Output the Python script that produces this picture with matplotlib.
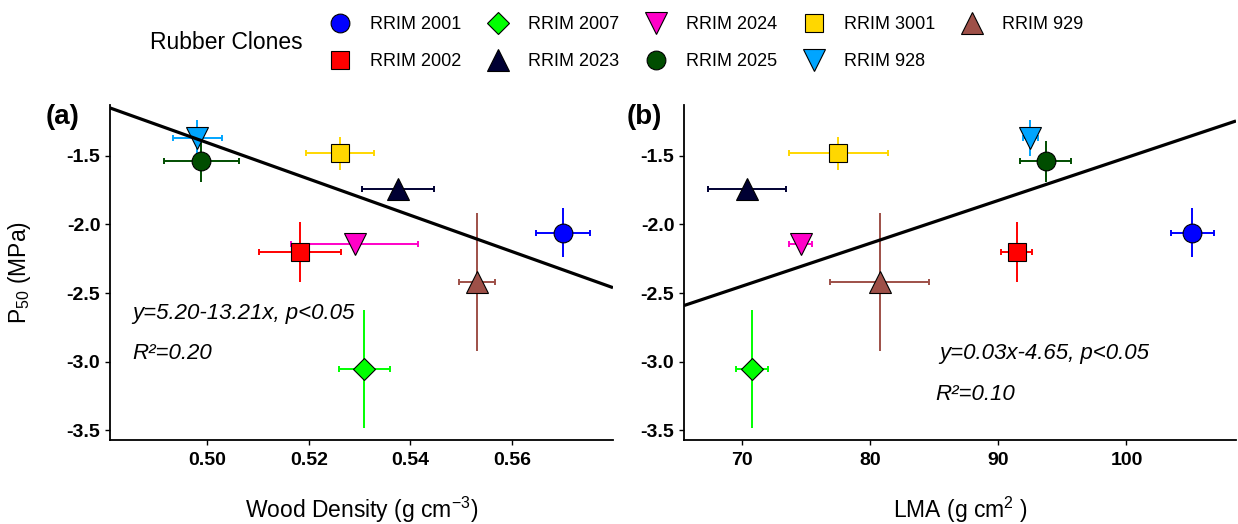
import matplotlib
matplotlib.use("Agg")
from matplotlib import pyplot as plt
from matplotlib.lines import Line2D

plt.rcParams["font.family"] = ["Liberation Sans", "DejaVu Sans"]
plt.rcParams["mathtext.fontset"] = "custom"
plt.rcParams["mathtext.rm"] = "Liberation Sans"
plt.rcParams["mathtext.it"] = "Liberation Sans:italic"
plt.rcParams["mathtext.bf"] = "Liberation Sans:bold"

# clones, in legend order
clones = ["RRIM 2001", "RRIM 2002", "RRIM 2007", "RRIM 2023", "RRIM 2024",
          "RRIM 2025", "RRIM 3001", "RRIM 928", "RRIM 929"]
colors = ["#0000FF", "#FF0000", "#00FF00", "#000033", "#FF00C8",
          "#004D00", "#FFD700", "#00A5FF", "#9E5048"]
markers = ["o", "s", "D", "^", "v", "o", "s", "v", "^"]

# P50 (MPa) mean and error
p50 = [-2.06, -2.20, -3.05, -1.74, -2.14, -1.54, -1.48, -1.37, -2.42]
p50_err = [0.18, 0.22, 0.43, 0.03, 0.07, 0.15, 0.12, 0.13, 0.50]

# wood density (g cm-3) mean and error
wd = [0.5701, 0.5183, 0.5309, 0.5376, 0.5290, 0.4988, 0.5262, 0.4980, 0.5531]
wd_err = [0.0053, 0.0081, 0.0050, 0.0071, 0.0125, 0.0074, 0.0067, 0.0048, 0.0035]

# LMA mean and error
lma = [105.15, 91.43, 70.77, 70.40, 74.57, 93.70, 77.50, 92.50, 80.73]
lma_err = [1.7, 1.23, 1.23, 3.05, 0.9, 2.0, 3.88, 0.6, 3.86]

# fitted lines
fit_a = (5.20, -13.21)     # intercept, slope
fit_b = (-4.633, 0.0312)

W, H = 1238, 524
fig = plt.figure(figsize=(W / 100, H / 100), dpi=100)

ax_a = fig.add_axes([110 / W, (H - 440) / H, (613 - 110) / W, (440 - 105) / H])
ax_b = fig.add_axes([684 / W, (H - 440) / H, (1236 - 684) / W, (440 - 105) / H])


def marker_size(m):
    if m in ("^", "v"):
        return 16
    if m == "D":
        return 11.5
    return 13.5


def draw_panel(ax, x, xerr, xlim, fit):
    for i in range(len(clones)):
        ax.errorbar(x[i], p50[i], xerr=xerr[i], fmt="none", ecolor=colors[i],
                    elinewidth=1.4, capsize=2.5, capthick=1.4, zorder=2)
        ax.errorbar(x[i], p50[i], yerr=p50_err[i], fmt="none", ecolor=colors[i],
                    elinewidth=1.4, capsize=0, zorder=2)
    for i in range(len(clones)):
        ax.plot(x[i], p50[i], marker=markers[i], ms=marker_size(markers[i]),
                mfc=colors[i], mec="black", mew=0.8, ls="none", zorder=3)
    b0, b1 = fit
    ax.plot(xlim, [b0 + b1 * xlim[0], b0 + b1 * xlim[1]], color="black",
            lw=2.3, zorder=4, solid_capstyle="butt")
    ax.set_xlim(xlim)
    ax.set_ylim(-3.57, -1.13)
    ax.set_yticks([-3.5, -3.0, -2.5, -2.0, -1.5])
    ax.set_yticklabels(["-3.5", "-3.0", "-2.5", "-2.0", "-1.5"])
    for side in ("top", "right"):
        ax.spines[side].set_visible(False)
    for side in ("left", "bottom"):
        ax.spines[side].set_linewidth(1.3)
    ax.tick_params(axis="both", length=3.5, width=1.0, labelsize=14, pad=3.5)
    ax.tick_params(axis="x", pad=5)
    for lab in ax.get_xticklabels() + ax.get_yticklabels():
        lab.set_fontweight("bold")


draw_panel(ax_a, wd, wd_err, (0.4808, 0.5799), fit_a)
ax_a.set_xticks([0.50, 0.52, 0.54, 0.56])
ax_a.set_xticklabels(["0.50", "0.52", "0.54", "0.56"], fontweight="bold")

draw_panel(ax_b, lma, lma_err, (65.46, 108.55), fit_b)
ax_b.set_xticks([70, 80, 90, 100])
ax_b.set_xticklabels(["70", "80", "90", "100"], fontweight="bold")

ax_a.set_xlabel(r"Wood Density (g cm$^{-3}$)", fontsize=16.5, va="center")
ax_a.xaxis.set_label_coords(0.5, -0.21)
ax_b.set_xlabel(r"LMA (g cm$^{2}$ )", fontsize=16.5, va="center")
ax_b.xaxis.set_label_coords(0.5, -0.21)
ax_a.set_ylabel(r"P$_{\mathregular{50}}$ (MPa)", fontsize=16.5, va="center")
ax_a.yaxis.set_label_coords(-0.18, 0.5)

# equations
ax_a.text(0.4852, -2.65, "y=5.20-13.21x, p<0.05", fontsize=16, style="italic",
          va="center")
ax_a.text(0.4852, -2.94, "R²=0.20", fontsize=16, style="italic", va="center")
ax_b.text(85.4, -2.94, "y=0.03x-4.65, p<0.05", fontsize=16, style="italic",
          va="center")
ax_b.text(85.1, -3.24, "R²=0.10", fontsize=16, style="italic", va="center")

# panel tags
fig.text(46 / W, 1 - 117 / H, "(a)", fontsize=20, fontweight="bold", va="center")
fig.text(627 / W, 1 - 117 / H, "(b)", fontsize=20, fontweight="bold", va="center")

# legend
handles = [Line2D([], [], marker=markers[i], ms=marker_size(markers[i]),
                  mfc=colors[i], mec="black", mew=0.8, ls="none")
           for i in range(len(clones))]
fig.legend(handles, clones, loc="upper left", bbox_to_anchor=(329 / W, 1 - 16 / H),
           ncol=5, frameon=False, fontsize=13, handlelength=1.2,
           handletextpad=1.05, columnspacing=1.45, labelspacing=1.1,
           borderpad=0, borderaxespad=0)
fig.text(150 / W, 1 - 43 / H, "Rubber Clones", fontsize=16.5, va="center")

fig.savefig("out.png", dpi=100)
